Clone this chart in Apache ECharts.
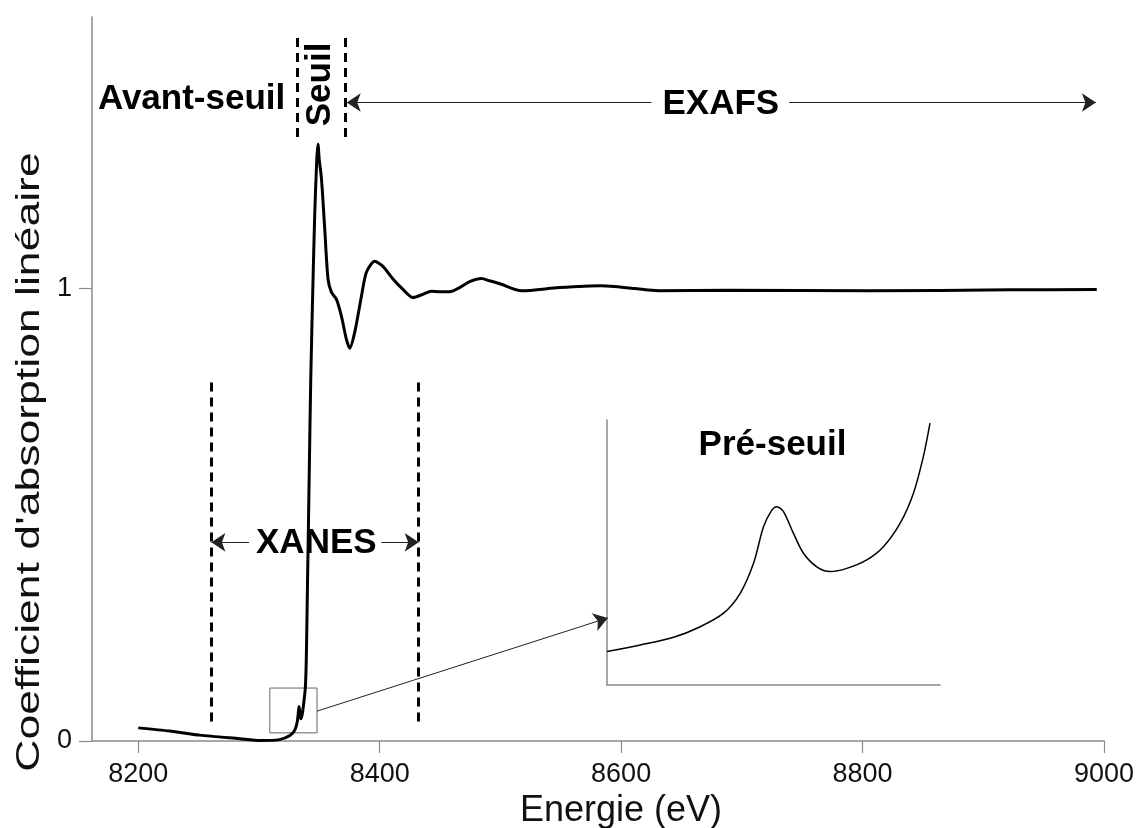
<!DOCTYPE html>
<html>
<head>
<meta charset="utf-8">
<script src="https://cdn.jsdelivr.net/npm/echarts@6/dist/echarts.min.js"></script>
<style>
html, body { margin: 0; padding: 0; background: #fff; }
#chart { width: 1139px; height: 828px; }
</style>
</head>
<body>
<div id="chart"></div>
<script>
// spectre principal (eV, coefficient normalisé)
const energy = [
  8200, 8226, 8251, 8284, 8301, 8317, 8325.6, 8329.7, 8331.7, 8332.7,
  8333.2, 8334.0, 8334.6, 8335.9, 8337.1, 8338.4, 8339.2, 8340.0, 8340.8, 8341.7,
  8342.9, 8344.6, 8346.2, 8347.9, 8348.9, 8349.9, 8351.8, 8354.5, 8357.2, 8360.0,
  8364.2, 8368.3, 8372.4, 8375.2, 8379.3, 8384.9, 8389.0, 8395.9, 8402.7, 8411.0,
  8419.3, 8427.6, 8435.8, 8442.8, 8449.6, 8457.9, 8466.2, 8474.5, 8484.4, 8491.0,
  8500.1, 8517.5, 8548.9, 8583.7, 8611.0, 8630.9, 8688.8, 8805.5, 8922.1, 8994
]
const mu = [
  0.029, 0.022, 0.013, 0.005, 0.001, 0.003, 0.012, 0.024, 0.042, 0.064,
  0.076, 0.062, 0.049, 0.060, 0.084, 0.117, 0.179, 0.312, 0.445, 0.600,
  0.799, 0.998, 1.164, 1.286, 1.319, 1.286, 1.242, 1.131, 1.021, 0.992,
  0.976, 0.939, 0.888, 0.868, 0.903, 0.983, 1.036, 1.060, 1.049, 1.021,
  0.998, 0.980, 0.987, 0.994, 0.993, 0.993, 1.002, 1.015, 1.022, 1.017,
  1.010, 0.995, 1.002, 1.006, 1.000, 0.995, 0.996, 0.995, 0.997, 0.998
]

// zoom sur le pré-seuil
const insetEnergy = [
  8326.0, 8328.0, 8330.0, 8331.6, 8333.0, 8334.0, 8334.8, 8335.4, 8335.9, 8336.2, 8336.6,
  8337.2, 8337.8, 8338.6, 8339.4, 8340.4, 8341.6, 8342.6, 8343.6, 8344.4, 8345.0, 8345.4
]
const insetMu = [
  0.0126, 0.0151, 0.0180, 0.0220, 0.0271, 0.0346, 0.0459, 0.0597, 0.0660, 0.0673, 0.0654,
  0.0572, 0.0497, 0.0446, 0.0428, 0.0440, 0.0472, 0.0522, 0.0610, 0.0723, 0.0862, 0.0988
]

const xTicks = [8200, 8400, 8600, 8800, 9000]
const yTicks = [0, 1]

const FONT = '"Liberation Sans", Arial, Helvetica, sans-serif'
const AXIS_GRAY = '#8a8a8a'

const chart = echarts.init(document.getElementById('chart'))

const dashed = { type: [9, 6], width: 3, color: '#000' }
const thin = { type: 'solid', width: 1.2, color: '#222' }

const seg = (a, b, style, arrowAtEnd) => [
  { coord: a, symbol: 'none' },
  { coord: b, symbol: arrowAtEnd ? 'arrow' : 'none', lineStyle: style }
]

const bold = { fontFamily: FONT, fontWeight: 'bold', fontSize: 35, color: '#000' }

const option = {
  animation: false,
  backgroundColor: '#fff',
  grid: [
    { left: 92, right: 35, top: 17, bottom: 87, outerBoundsMode: 'none' },
    { left: 607, top: 420, width: 333, height: 265, outerBoundsMode: 'none' }
  ],
  xAxis: [
    {
      type: 'value',
      min: 8161.7,
      max: 9000,
      name: 'Energie (eV)',
      nameLocation: 'middle',
      nameGap: 40,
      nameTextStyle: { fontFamily: FONT, fontSize: 36, color: '#111', padding: [0, 0, 0, 46] },
      axisLine: { lineStyle: { color: AXIS_GRAY, width: 1.5 } },
      axisTick: { show: true, customValues: xTicks, length: 12, lineStyle: { color: AXIS_GRAY, width: 1.2 } },
      axisLabel: {
        customValues: xTicks,
        formatter: v => String(v),
        margin: 20,
        fontFamily: FONT,
        fontSize: 27,
        color: '#111'
      },
      splitLine: { show: false }
    },
    {
      type: 'value',
      gridIndex: 1,
      min: 8326,
      max: 8346,
      axisLine: { lineStyle: { color: AXIS_GRAY, width: 1.5 } },
      axisTick: { show: false },
      axisLabel: { show: false },
      splitLine: { show: false }
    }
  ],
  yAxis: [
    {
      type: 'value',
      min: 0,
      max: 1.6,
      axisLine: { show: true, lineStyle: { color: AXIS_GRAY, width: 1.5 } },
      axisTick: { show: true, customValues: yTicks, length: 13, lineStyle: { color: AXIS_GRAY, width: 1.2 } },
      axisLabel: {
        customValues: yTicks,
        formatter: v => String(v),
        margin: 20,
        fontFamily: FONT,
        fontSize: 27,
        color: '#111'
      },
      splitLine: { show: false }
    },
    {
      type: 'value',
      gridIndex: 1,
      min: 0,
      max: 0.1,
      axisLine: { show: true, lineStyle: { color: AXIS_GRAY, width: 1.5 } },
      axisTick: { show: false },
      axisLabel: { show: false },
      splitLine: { show: false }
    }
  ],
  // titre de l'axe y, étiré dans le sens de la lecture comme sur la figure
  graphic: [
    {
      type: 'text',
      x: 30,
      y: 462,
      rotation: Math.PI / 2,
      scaleX: 1.35,
      style: {
        text: "Coefficient d'absorption linéaire",
        fontFamily: FONT,
        fontSize: 33,
        fill: '#111',
        align: 'center',
        verticalAlign: 'middle'
      }
    }
  ],
  series: [
    {
      type: 'line',
      data: energy.map((e, i) => [e, mu[i]]),
      smooth: 0.25,
      showSymbol: false,
      lineStyle: { color: '#000', width: 3 },
      z: 5,
      markArea: {
        silent: true,
        itemStyle: { color: 'transparent', borderColor: '#666', borderWidth: 1 },
        data: [[{ coord: [8309, 0.018] }, { coord: [8348.1, 0.117] }]]
      },
      markLine: {
        silent: true,
        symbol: 'none',
        symbolSize: 14,
        label: { show: false },
        data: [
          // XANES
          seg([8260.6, 0.043], [8260.6, 0.793], dashed),
          seg([8432.3, 0.043], [8432.3, 0.793], dashed),
          // seuil
          seg([8331.6, 1.335], [8331.6, 1.561], dashed),
          seg([8371.6, 1.335], [8371.6, 1.561], dashed),
          // flèches
          seg([8291.8, 0.439], [8260.6, 0.439], thin, true),
          seg([8401.4, 0.439], [8432.3, 0.439], thin, true),
          seg([8625.1, 1.411], [8372.7, 1.411], thin, true),
          seg([8739.2, 1.411], [8993.3, 1.411], thin, true),
          seg([8348.1, 0.066], [8589, 0.272], { type: 'solid', width: 1, color: '#222' }, true)
        ]
      },
      markPoint: {
        silent: true,
        symbol: 'circle',
        symbolSize: 1,
        itemStyle: { color: 'transparent' },
        label: { show: true, position: 'inside', formatter: p => p.name, ...bold },
        data: [
          { name: 'Avant-seuil', coord: [8244.2, 1.417] },
          { name: 'Seuil', coord: [8350.8, 1.451], label: { rotate: 90 } },
          { name: 'EXAFS', coord: [8682.6, 1.406] },
          { name: 'XANES', coord: [8347.5, 0.437] }
        ]
      }
    },
    {
      type: 'line',
      xAxisIndex: 1,
      yAxisIndex: 1,
      data: insetEnergy.map((e, i) => [e, insetMu[i]]),
      smooth: 0.3,
      showSymbol: false,
      lineStyle: { color: '#000', width: 1.5 },
      markPoint: {
        silent: true,
        symbol: 'circle',
        symbolSize: 1,
        itemStyle: { color: 'transparent' },
        label: { show: true, position: 'inside', formatter: p => p.name, ...bold },
        data: [{ name: 'Pré-seuil', coord: [8335.94, 0.0906] }]
      }
    }
  ]
}

chart.setOption(option)

window.addEventListener('resize', () => chart.resize())
</script>
</body>
</html>
